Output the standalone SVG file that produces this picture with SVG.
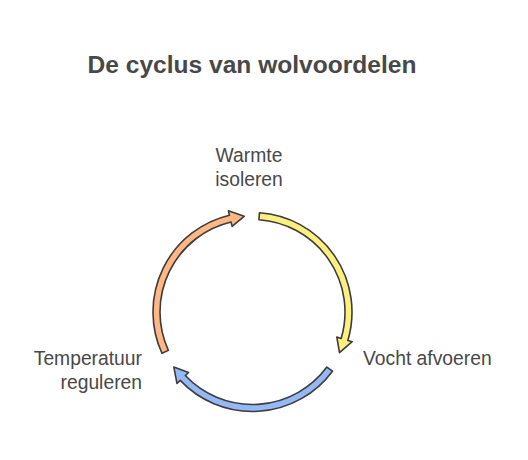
<svg xmlns="http://www.w3.org/2000/svg" width="528" height="460" viewBox="0 0 528 460">
<style>
.bg{fill:#ffffff}
.title{font-family:"Liberation Sans",Arial,sans-serif;font-weight:bold;font-size:23.5px;fill:#484848}
.lbl{font-family:"Liberation Sans",Arial,sans-serif;font-size:19.3px;fill:#484848}
.arc{stroke:#3c3c3c;stroke-width:1.6;stroke-linejoin:round}
</style>
<rect class="bg" x="0" y="0" width="528" height="460"/>
<text class="title" x="252" y="72.5" text-anchor="middle" textLength="329" lengthAdjust="spacingAndGlyphs">De cyclus van wolvoordelen</text>
<g id="connectors">
<path id="arc-yellow" class="arc" fill="#FFEF7F" d="M259.44,212.74 A99.5,99.5 0 0 1 347.85,340.43 L352.17,341.71 L339.51,352.57 L336.83,337.14 L341.14,338.43 A92.5,92.5 0 0 0 258.95,219.73 Z"/>
<path id="arc-blue" class="arc" fill="#95B9F6" d="M332.48,371.18 A99.5,99.5 0 0 1 180.21,380.37 L176.94,383.46 L173.86,367.06 L188.56,372.46 L185.29,375.56 A92.5,92.5 0 0 0 326.86,367.02 Z"/>
<path id="arc-orange" class="arc" fill="#FFB884" d="M161.96,353.26 A99.5,99.5 0 0 1 229.44,215.21 L228.40,210.83 L244.13,216.37 L232.11,226.40 L231.06,222.02 A92.5,92.5 0 0 0 168.33,350.36 Z"/>
</g>
<g id="node-warmte">
<text class="lbl" x="249" y="162" text-anchor="middle">Warmte</text>
<text class="lbl" x="249" y="186" text-anchor="middle">isoleren</text>
</g>
<g id="node-vocht">
<text class="lbl" x="363" y="365">Vocht afvoeren</text>
</g>
<g id="node-temperatuur">
<text class="lbl" x="142" y="365" text-anchor="end">Temperatuur</text>
<text class="lbl" x="142" y="389" text-anchor="end">reguleren</text>
</g>
</svg>
